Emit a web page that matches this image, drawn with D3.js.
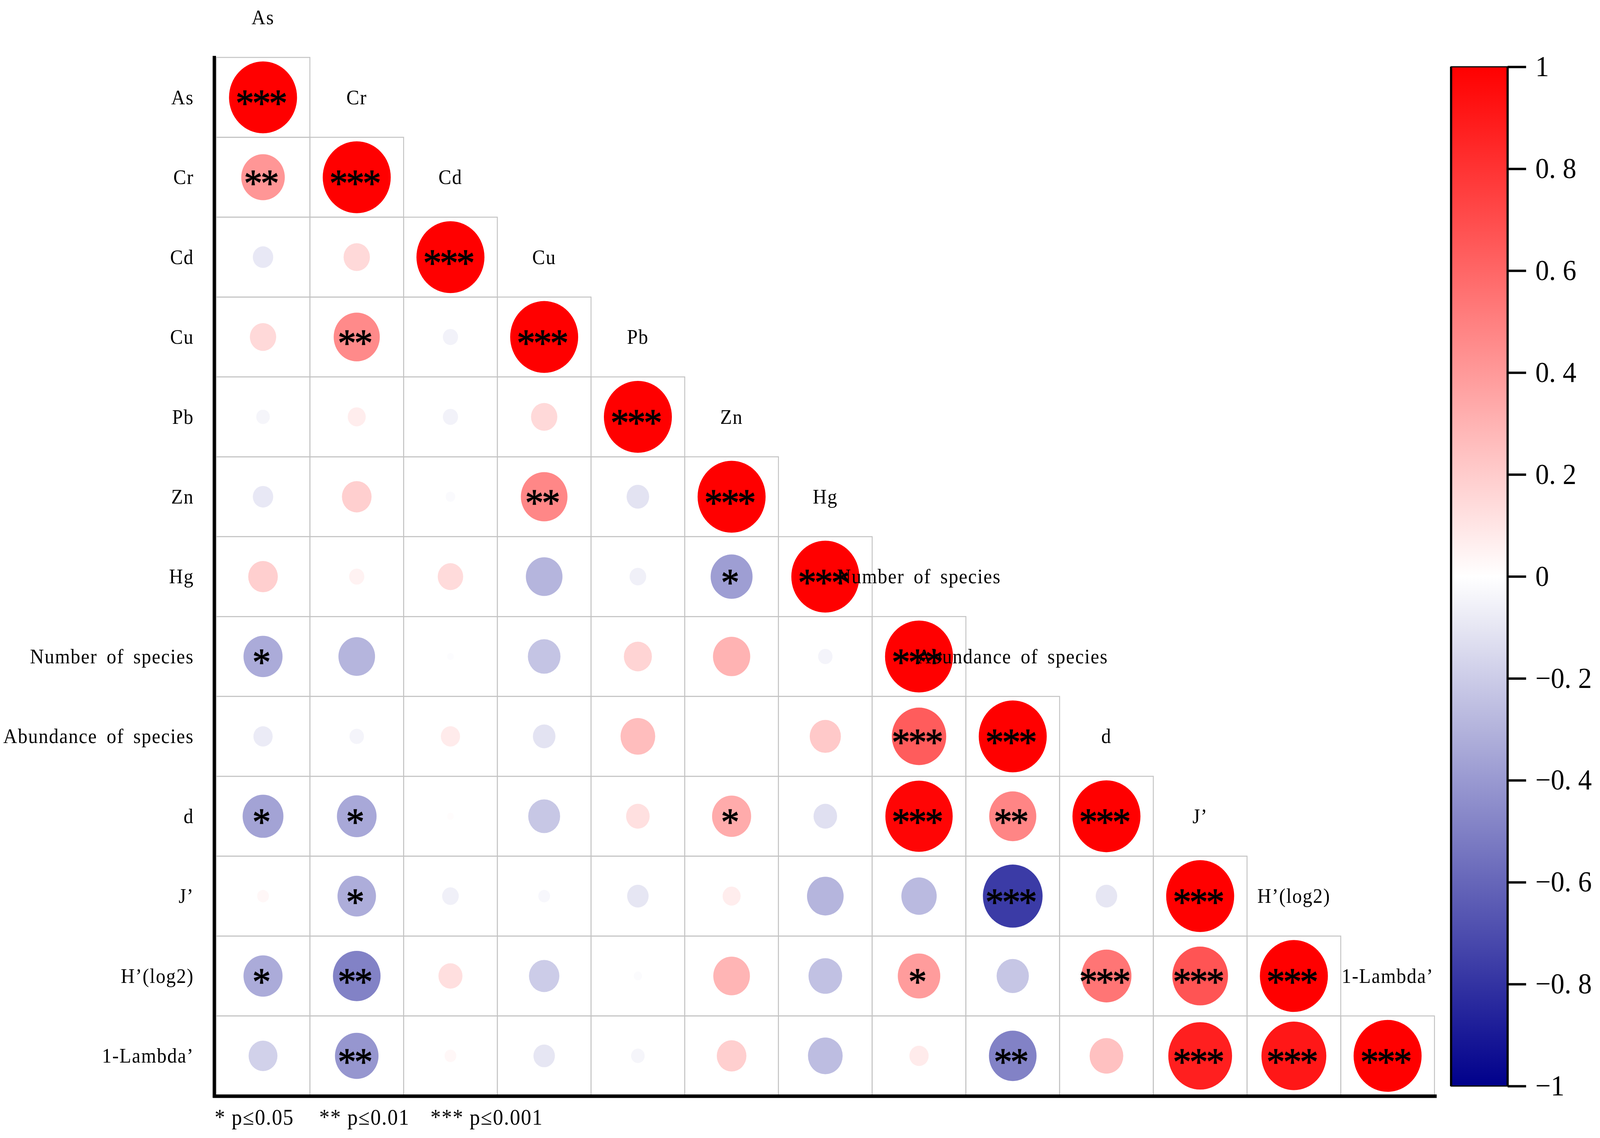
<!DOCTYPE html>
<html>
<head>
<meta charset="utf-8">
<script src="https://cdn.jsdelivr.net/npm/d3@7"></script>
<style>
html, body { margin: 0; padding: 0; background: #fff; overflow: hidden; }
#chart svg { display: block; width: 100vw; height: 100vh; }
</style>
</head>
<body>
<div id="chart"></div>
<script>
// variables in matrix order
let variables = ['As', 'Cr', 'Cd', 'Cu', 'Pb', 'Zn', 'Hg', 'Number of species',
    'Abundance of species', 'd', 'J’', 'H’(log2)', '1-Lambda’'];

// lower triangle of the correlation matrix (row i, columns 0..i)
let corrRows = [
    [1],
    [0.41, 1],
    [-0.09, 0.15, 1],
    [0.15, 0.46, -0.05, 1],
    [-0.04, 0.07, -0.05, 0.15, 1],
    [-0.09, 0.19, -0.02, 0.47, -0.11, 1],
    [0.19, 0.05, 0.14, -0.29, -0.06, -0.38, 1],
    [-0.33, -0.29, -0.01, -0.23, 0.17, 0.30, -0.045, 1],
    [-0.08, -0.045, 0.08, -0.11, 0.26, 0, 0.21, 0.64, 1],
    [-0.36, -0.34, 0.01, -0.22, 0.12, 0.33, -0.12, 0.98, 0.48, 1],
    [0.03, -0.32, -0.06, -0.03, -0.10, 0.07, -0.29, -0.27, -0.77, -0.10, 1],
    [-0.33, -0.49, 0.125, -0.20, -0.015, 0.29, -0.245, 0.39, -0.225, 0.54, 0.67, 1],
    [-0.18, -0.41, 0.03, -0.10, -0.04, 0.19, -0.26, 0.08, -0.49, 0.245, 0.88, 0.91, 1]
];

// significance marks, same layout
let sigRows = [
    ['***'],
    ['**', '***'],
    ['', '', '***'],
    ['', '**', '', '***'],
    ['', '', '', '', '***'],
    ['', '', '', '**', '', '***'],
    ['', '', '', '', '', '*', '***'],
    ['*', '', '', '', '', '', '', '***'],
    ['', '', '', '', '', '', '', '***', '***'],
    ['*', '*', '', '', '', '*', '', '***', '**', '***'],
    ['', '*', '', '', '', '', '', '', '***', '', '***'],
    ['*', '**', '', '', '', '', '', '*', '', '***', '***', '***'],
    ['', '**', '', '', '', '', '', '', '**', '', '***', '***', '***']
];

let colorTicks = [1, 0.8, 0.6, 0.4, 0.2, 0, -0.2, -0.4, -0.6, -0.8, -1];
let legendItems = ['* p≤0.05', '** p≤0.01', '*** p≤0.001'];

let width = 4330, height = 2913;
let labelFont = '"Liberation Serif", "DejaVu Serif", serif';

let svg = d3.select('#chart').append('svg')
    .attr('viewBox', `0 0 ${width} ${height}`)
    .attr('preserveAspectRatio', 'none');

svg.append('rect').attr('width', width).attr('height', height).attr('fill', '#fff');

let x = d3.scaleBand().domain(variables).range([585, 3882]);
let y = d3.scaleBand().domain(variables).range([147, 2805]);
let cw = x.bandwidth(), ch = y.bandwidth();

let size = d3.scaleSqrt().domain([0, 1]).range([0, ch * 0.45]);
let color = d3.scaleLinear().domain([-1, 0, 1]).range(['#00008b', '#ffffff', '#ff0000']);

let cells = [];
corrRows.forEach((row, i) => {
    row.forEach((v, j) => {
        cells.push({row: variables[i], col: variables[j], value: v, sig: sigRows[i][j]});
    });
});

//Grid cells
svg.append('g').selectAll('rect')
    .data(cells)
    .enter().append('rect')
    .attr('x', d => x(d.col))
    .attr('y', d => y(d.row))
    .attr('width', cw)
    .attr('height', ch)
    .attr('fill', 'none')
    .attr('stroke', '#c3c3c3')
    .attr('stroke-width', 2.5);

//Circles
svg.append('g').selectAll('circle')
    .data(cells.filter(d => d.value !== 0))
    .enter().append('circle')
    .attr('cx', d => x(d.col) + cw / 2)
    .attr('cy', d => y(d.row) + ch / 2)
    .attr('r', d => size(Math.abs(d.value)))
    .attr('fill', d => color(d.value));

//Significance stars, one text per star so they sit evenly
let starStep = 45;
let stars = [];
cells.filter(d => d.sig).forEach(d => {
    let n = d.sig.length;
    for (let k = 0; k < n; k++) {
        stars.push({
            cx: x(d.col) + cw / 2 + (k - (n - 1) / 2) * starStep,
            cy: y(d.row) + ch / 2
        });
    }
});
svg.append('g').selectAll('text')
    .data(stars)
    .enter().append('text')
    .attr('x', d => d.cx - 4)
    .attr('y', d => d.cy + 48)
    .attr('text-anchor', 'middle')
    .attr('stroke', '#000')
    .attr('stroke-width', 1.5)
    .style('font-family', '"Liberation Serif", serif')
    .style('font-size', '100px')
    .text('*');

//Column labels above each diagonal cell
svg.append('g').selectAll('text')
    .data(variables)
    .enter().append('text')
    .attr('x', d => x(d) + cw / 2)
    .attr('y', d => y(d) - ch / 2)
    .attr('text-anchor', 'middle')
    .attr('dominant-baseline', 'central')
    .style('font-family', labelFont)
    .style('font-size', '52px')
    .style('letter-spacing', '2px')
    .style('word-spacing', '10px')
    .text(d => d);

//Row labels
svg.append('g').selectAll('text')
    .data(variables)
    .enter().append('text')
    .attr('x', 525)
    .attr('y', d => y(d) + ch / 2)
    .attr('text-anchor', 'end')
    .attr('dominant-baseline', 'central')
    .style('font-family', labelFont)
    .style('font-size', '52px')
    .style('letter-spacing', '2px')
    .style('word-spacing', '10px')
    .text(d => d);

//Axis lines
svg.append('line')
    .attr('x1', 580).attr('x2', 580)
    .attr('y1', 143).attr('y2', 2810)
    .attr('stroke', '#000').attr('stroke-width', 9);
svg.append('line')
    .attr('x1', 576).attr('x2', 3888)
    .attr('y1', 2806).attr('y2', 2806)
    .attr('stroke', '#000').attr('stroke-width', 9);

//Legend for significance
let legendX = [581, 864, 1165];
svg.append('g').selectAll('text')
    .data(legendItems)
    .enter().append('text')
    .attr('x', (d, i) => legendX[i])
    .attr('y', 2860)
    .attr('dominant-baseline', 'central')
    .style('font-family', labelFont)
    .style('font-size', '56px')
    .style('letter-spacing', '2px')
    .text(d => d);

//Colour bar
let barX = 3927, barW = 153;
let barScale = d3.scaleLinear().domain([-1, 1]).range([2780, 171]);

let grad = svg.append('defs').append('linearGradient')
    .attr('id', 'cbar')
    .attr('x1', 0).attr('x2', 0)
    .attr('y1', 1).attr('y2', 0);
grad.selectAll('stop')
    .data(d3.range(-1, 1.0001, 0.1))
    .enter().append('stop')
    .attr('offset', d => (d + 1) / 2)
    .attr('stop-color', d => color(d));

svg.append('rect')
    .attr('x', barX)
    .attr('y', barScale(1))
    .attr('width', barW)
    .attr('height', barScale(-1) - barScale(1))
    .attr('fill', 'url(#cbar)')
    .attr('stroke', '#000')
    .attr('stroke-width', 3);
[barX, barX + barW].forEach(bx => {
    svg.append('line')
        .attr('x1', bx).attr('x2', bx)
        .attr('y1', barScale(1)).attr('y2', barScale(-1))
        .attr('stroke', '#000').attr('stroke-width', 6);
});

let fmt = v => {
    if (v === 0 || Math.abs(v) === 1) return (v < 0 ? '−' : '') + Math.abs(v);
    let s = Math.abs(v).toFixed(1).replace('.', '. ');
    return (v < 0 ? '−' : '') + s;
};

let barAxis = svg.append('g')
    .attr('transform', `translate(${barX + barW},0)`)
    .call(d3.axisRight(barScale).tickValues(colorTicks).tickFormat(fmt).tickSize(50).tickPadding(25));
barAxis.select('.domain').remove();
barAxis.selectAll('.tick line').attr('stroke', '#000').attr('stroke-width', 6);
barAxis.selectAll('.tick text')
    .attr('fill', '#000')
    .style('font-family', '"Liberation Serif", serif')
    .style('font-size', '74px');
</script>
</body>
</html>
